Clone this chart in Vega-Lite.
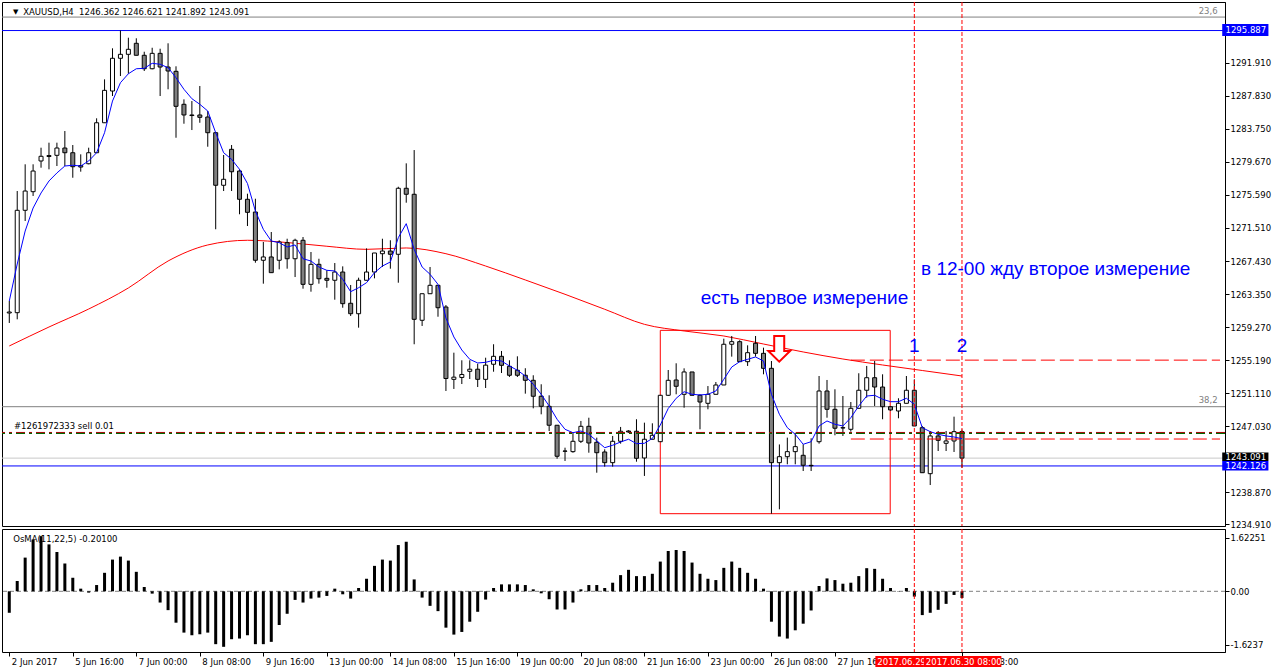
{
"$schema":"https://vega.github.io/schema/vega-lite/v6.json",
"padding":{"left":1,"top":1,"right":0,"bottom":0},
"background":"white",
"spacing":3,
"bounds":"flush",
"config":{"view":{"stroke":"black","strokeWidth":1},"font":"DejaVu Sans","axis":{"grid":false,"labelOverlap":false,"labelFont":"DejaVu Sans","labelFontSize":8.5,"labelColor":"black","tickColor":"black","domainColor":"black"}},
"datasets":{
"bars":[
{"i":0,"o":1261.01,"h":1262.49,"l":1259.78,"c":1261.13,"b":1262.49,"v":-0.65},
{"i":1,"o":1261.05,"h":1276.07,"l":1260.23,"c":1273.69,"b":1267.06,"v":0.31},
{"i":2,"o":1273.69,"h":1279.37,"l":1272.37,"c":1276.07,"b":1271.13,"v":1.02},
{"i":3,"o":1275.99,"h":1279.37,"l":1275.46,"c":1278.54,"b":1273.97,"v":1.57},
{"i":4,"o":1279.78,"h":1281.42,"l":1278.95,"c":1280.36,"b":1275.83,"v":1.67},
{"i":5,"o":1280.33,"h":1282.04,"l":1278.75,"c":1280.45,"b":1277.31,"v":1.42},
{"i":6,"o":1280.48,"h":1282.04,"l":1279.16,"c":1281.38,"b":1278.30,"v":1.19},
{"i":7,"o":1281.38,"h":1283.48,"l":1279.16,"c":1280.80,"b":1279.16,"v":0.84},
{"i":8,"o":1280.80,"h":1281.75,"l":1277.71,"c":1279.07,"b":1279.25,"v":0.41},
{"i":9,"o":1279.22,"h":1280.60,"l":1278.46,"c":1279.03,"b":1279.16,"v":0.08},
{"i":10,"o":1279.44,"h":1281.42,"l":1279.37,"c":1280.80,"b":1279.78,"v":-0.04},
{"i":11,"o":1280.80,"h":1285.05,"l":1280.80,"c":1284.50,"b":1280.80,"v":0.19},
{"i":12,"o":1284.50,"h":1289.86,"l":1284.50,"c":1288.50,"b":1283.27,"v":0.56},
{"i":13,"o":1288.42,"h":1293.69,"l":1287.80,"c":1292.46,"b":1287.18,"v":0.96},
{"i":14,"o":1292.46,"h":1295.89,"l":1290.27,"c":1292.95,"b":1289.44,"v":1.05},
{"i":15,"o":1292.95,"h":1295.00,"l":1290.55,"c":1293.57,"b":1290.55,"v":0.93},
{"i":16,"o":1294.31,"h":1294.93,"l":1292.83,"c":1292.83,"b":1291.17,"v":0.59},
{"i":17,"o":1292.83,"h":1293.27,"l":1290.89,"c":1291.17,"b":1291.22,"v":0.13},
{"i":18,"o":1291.17,"h":1293.76,"l":1291.10,"c":1293.07,"b":1291.84,"v":-0.07},
{"i":19,"o":1293.07,"h":1293.64,"l":1287.80,"c":1291.38,"b":1291.72,"v":-0.34},
{"i":20,"o":1291.38,"h":1294.31,"l":1288.63,"c":1290.89,"b":1291.30,"v":-0.57},
{"i":21,"o":1290.85,"h":1291.47,"l":1282.65,"c":1286.53,"b":1290.06,"v":-0.95},
{"i":22,"o":1286.78,"h":1287.39,"l":1284.38,"c":1285.46,"b":1288.63,"v":-1.25},
{"i":23,"o":1285.46,"h":1287.18,"l":1283.60,"c":1285.39,"b":1287.47,"v":-1.33},
{"i":24,"o":1285.46,"h":1289.04,"l":1284.50,"c":1285.17,"b":1286.78,"v":-1.30},
{"i":25,"o":1285.21,"h":1285.95,"l":1281.54,"c":1283.27,"b":1285.95,"v":-1.25},
{"i":26,"o":1283.27,"h":1283.36,"l":1271.35,"c":1276.78,"b":1283.27,"v":-1.60},
{"i":27,"o":1276.78,"h":1280.52,"l":1276.07,"c":1277.52,"b":1280.80,"v":-1.68},
{"i":28,"o":1281.22,"h":1281.75,"l":1276.07,"c":1278.45,"b":1279.99,"v":-1.45},
{"i":29,"o":1278.54,"h":1278.75,"l":1273.20,"c":1275.05,"b":1278.75,"v":-1.43},
{"i":30,"o":1275.05,"h":1275.74,"l":1271.75,"c":1273.44,"b":1277.00,"v":-1.33},
{"i":31,"o":1273.48,"h":1275.12,"l":1267.22,"c":1267.52,"b":1273.60,"v":-1.60},
{"i":32,"o":1267.52,"h":1269.78,"l":1264.63,"c":1267.93,"b":1271.34,"v":-1.60},
{"i":33,"o":1267.93,"h":1271.01,"l":1265.99,"c":1265.99,"b":1269.90,"v":-1.53},
{"i":34,"o":1267.52,"h":1269.99,"l":1266.40,"c":1269.78,"b":1269.69,"v":-1.02},
{"i":35,"o":1269.69,"h":1270.18,"l":1266.48,"c":1267.71,"b":1269.16,"v":-0.68},
{"i":36,"o":1267.71,"h":1270.18,"l":1265.45,"c":1269.99,"b":1269.41,"v":-0.26},
{"i":37,"o":1269.99,"h":1270.39,"l":1264.01,"c":1264.55,"b":1267.71,"v":-0.34},
{"i":38,"o":1264.55,"h":1268.54,"l":1263.64,"c":1267.02,"b":1267.43,"v":-0.22},
{"i":39,"o":1267.02,"h":1267.71,"l":1264.63,"c":1265.24,"b":1266.69,"v":-0.19},
{"i":40,"o":1265.29,"h":1266.28,"l":1264.13,"c":1265.05,"b":1266.28,"v":-0.14},
{"i":41,"o":1265.05,"h":1267.18,"l":1262.65,"c":1266.07,"b":1266.20,"v":0.08},
{"i":42,"o":1266.07,"h":1266.77,"l":1261.66,"c":1262.16,"b":1265.17,"v":-0.09},
{"i":43,"o":1262.21,"h":1264.47,"l":1260.64,"c":1260.92,"b":1263.64,"v":-0.22},
{"i":44,"o":1260.92,"h":1265.37,"l":1259.20,"c":1265.05,"b":1264.13,"v":0.10},
{"i":45,"o":1265.05,"h":1268.99,"l":1265.05,"c":1266.07,"b":1264.75,"v":0.38},
{"i":46,"o":1266.07,"h":1268.42,"l":1265.29,"c":1268.42,"b":1265.99,"v":0.77},
{"i":47,"o":1268.33,"h":1270.18,"l":1266.69,"c":1268.66,"b":1266.81,"v":0.96},
{"i":48,"o":1268.66,"h":1269.99,"l":1266.48,"c":1268.26,"b":1267.31,"v":0.93},
{"i":49,"o":1268.26,"h":1276.60,"l":1264.75,"c":1276.41,"b":1270.31,"v":1.40},
{"i":50,"o":1276.41,"h":1279.49,"l":1274.63,"c":1275.67,"b":1272.04,"v":1.50},
{"i":51,"o":1275.67,"h":1281.13,"l":1257.15,"c":1260.23,"b":1268.87,"v":0.36},
{"i":52,"o":1260.11,"h":1263.39,"l":1259.41,"c":1263.39,"b":1266.69,"v":-0.19},
{"i":53,"o":1263.39,"h":1266.69,"l":1263.39,"c":1264.43,"b":1265.79,"v":-0.44},
{"i":54,"o":1264.43,"h":1264.43,"l":1260.55,"c":1261.66,"b":1264.55,"v":-0.60},
{"i":55,"o":1261.75,"h":1261.99,"l":1251.38,"c":1252.92,"b":1260.39,"v":-1.10},
{"i":56,"o":1252.82,"h":1256.11,"l":1251.63,"c":1253.09,"b":1258.05,"v":-1.31},
{"i":57,"o":1253.05,"h":1255.17,"l":1252.24,"c":1253.42,"b":1256.44,"v":-1.23},
{"i":58,"o":1253.81,"h":1255.17,"l":1252.86,"c":1254.07,"b":1255.29,"v":-0.92},
{"i":59,"o":1254.07,"h":1254.75,"l":1251.87,"c":1252.82,"b":1254.84,"v":-0.62},
{"i":60,"o":1252.82,"h":1255.49,"l":1251.75,"c":1254.57,"b":1254.92,"v":-0.25},
{"i":61,"o":1254.68,"h":1257.15,"l":1253.76,"c":1255.66,"b":1255.17,"v":0.10},
{"i":62,"o":1255.66,"h":1256.32,"l":1253.60,"c":1254.55,"b":1255.08,"v":0.21},
{"i":63,"o":1254.43,"h":1255.17,"l":1253.11,"c":1253.32,"b":1254.47,"v":0.21},
{"i":64,"o":1253.94,"h":1255.66,"l":1253.11,"c":1253.32,"b":1253.94,"v":0.21},
{"i":65,"o":1253.32,"h":1254.19,"l":1251.05,"c":1252.70,"b":1253.23,"v":0.19},
{"i":66,"o":1252.70,"h":1253.32,"l":1249.24,"c":1250.73,"b":1252.21,"v":0.06},
{"i":67,"o":1250.73,"h":1252.21,"l":1248.50,"c":1249.49,"b":1250.97,"v":-0.06},
{"i":68,"o":1249.49,"h":1250.85,"l":1246.44,"c":1247.15,"b":1249.53,"v":-0.24},
{"i":69,"o":1247.15,"h":1247.15,"l":1243.02,"c":1243.32,"b":1247.89,"v":-0.55},
{"i":70,"o":1243.97,"h":1244.38,"l":1242.74,"c":1243.94,"b":1246.65,"v":-0.55},
{"i":71,"o":1243.89,"h":1246.23,"l":1243.76,"c":1245.17,"b":1246.23,"v":-0.34},
{"i":72,"o":1245.17,"h":1247.68,"l":1244.96,"c":1247.02,"b":1246.44,"v":0.06},
{"i":73,"o":1247.02,"h":1248.08,"l":1243.76,"c":1244.96,"b":1246.03,"v":0.19},
{"i":74,"o":1245.05,"h":1245.62,"l":1241.29,"c":1243.76,"b":1245.21,"v":0.19},
{"i":75,"o":1243.85,"h":1244.18,"l":1242.04,"c":1242.53,"b":1244.38,"v":0.10},
{"i":76,"o":1242.53,"h":1245.83,"l":1242.04,"c":1245.17,"b":1244.68,"v":0.26},
{"i":77,"o":1245.17,"h":1246.94,"l":1244.88,"c":1246.41,"b":1245.08,"v":0.49},
{"i":78,"o":1246.44,"h":1246.53,"l":1246.23,"c":1246.32,"b":1245.42,"v":0.65},
{"i":79,"o":1246.41,"h":1247.89,"l":1242.65,"c":1243.07,"b":1244.88,"v":0.46},
{"i":80,"o":1243.11,"h":1247.47,"l":1240.89,"c":1245.42,"b":1244.92,"v":0.46},
{"i":81,"o":1245.42,"h":1247.39,"l":1245.42,"c":1245.91,"b":1245.52,"v":0.53},
{"i":82,"o":1245.12,"h":1250.89,"l":1245.12,"c":1250.85,"b":1247.18,"v":0.90},
{"i":83,"o":1250.85,"h":1253.97,"l":1250.76,"c":1252.70,"b":1249.22,"v":1.22},
{"i":84,"o":1252.74,"h":1254.80,"l":1250.97,"c":1251.96,"b":1250.48,"v":1.25},
{"i":85,"o":1250.97,"h":1254.18,"l":1249.32,"c":1253.73,"b":1251.29,"v":1.22},
{"i":86,"o":1253.73,"h":1253.73,"l":1250.85,"c":1250.85,"b":1250.97,"v":0.87},
{"i":87,"o":1250.85,"h":1250.97,"l":1246.65,"c":1250.02,"b":1250.89,"v":0.53},
{"i":88,"o":1249.86,"h":1251.99,"l":1249.12,"c":1250.97,"b":1250.97,"v":0.38},
{"i":89,"o":1250.97,"h":1252.49,"l":1250.97,"c":1252.12,"b":1251.38,"v":0.34},
{"i":90,"o":1252.12,"h":1257.84,"l":1252.12,"c":1257.15,"b":1252.82,"v":0.71},
{"i":91,"o":1257.15,"h":1258.17,"l":1255.62,"c":1257.47,"b":1254.34,"v":0.90},
{"i":92,"o":1257.47,"h":1257.64,"l":1255.00,"c":1255.00,"b":1255.00,"v":0.71},
{"i":93,"o":1255.00,"h":1257.02,"l":1254.47,"c":1256.11,"b":1255.29,"v":0.56},
{"i":94,"o":1257.27,"h":1258.17,"l":1255.62,"c":1256.03,"b":1255.58,"v":0.38},
{"i":95,"o":1256.03,"h":1256.73,"l":1253.44,"c":1254.18,"b":1255.08,"v":0.08},
{"i":96,"o":1254.18,"h":1255.08,"l":1236.23,"c":1242.53,"b":1250.97,"v":-0.92},
{"i":97,"o":1242.53,"h":1244.78,"l":1236.77,"c":1243.27,"b":1248.50,"v":-1.37},
{"i":98,"o":1243.27,"h":1245.62,"l":1242.33,"c":1243.89,"b":1246.85,"v":-1.43},
{"i":99,"o":1243.89,"h":1246.23,"l":1242.33,"c":1244.51,"b":1246.03,"v":-1.18},
{"i":100,"o":1243.44,"h":1244.80,"l":1241.50,"c":1242.21,"b":1244.80,"v":-0.98},
{"i":101,"o":1242.2,"h":1245.54,"l":1241.50,"c":1242.15,"b":1245.12,"v":-0.58},
{"i":102,"o":1245.12,"h":1253.23,"l":1244.88,"c":1251.38,"b":1247.06,"v":0.16},
{"i":103,"o":1251.38,"h":1252.74,"l":1248.08,"c":1249.12,"b":1247.68,"v":0.39},
{"i":104,"o":1249.12,"h":1251.59,"l":1245.91,"c":1246.78,"b":1247.27,"v":0.34},
{"i":105,"o":1246.85,"h":1250.76,"l":1245.83,"c":1246.81,"b":1247.06,"v":0.23},
{"i":106,"o":1246.65,"h":1250.02,"l":1246.36,"c":1249.24,"b":1248.08,"v":0.26},
{"i":107,"o":1249.24,"h":1253.57,"l":1249.24,"c":1251.47,"b":1249.53,"v":0.46},
{"i":108,"o":1251.47,"h":1254.47,"l":1250.55,"c":1253.02,"b":1250.76,"v":0.70},
{"i":109,"o":1253.02,"h":1255.08,"l":1249.53,"c":1251.87,"b":1250.85,"v":0.68},
{"i":110,"o":1251.87,"h":1253.44,"l":1247.89,"c":1249.44,"b":1250.36,"v":0.38},
{"i":111,"o":1249.44,"h":1249.53,"l":1248.95,"c":1249.04,"b":1250.06,"v":0.10},
{"i":112,"o":1248.91,"h":1250.48,"l":1248.01,"c":1249.86,"b":1250.06,"v":0.01},
{"i":113,"o":1249.86,"h":1253.23,"l":1249.86,"c":1251.47,"b":1250.48,"v":0.10},
{"i":114,"o":1251.47,"h":1252.82,"l":1247.06,"c":1247.06,"b":1249.74,"v":-0.16},
{"i":115,"o":1246.85,"h":1247.06,"l":1241.29,"c":1241.29,"b":1246.85,"v":-0.72},
{"i":116,"o":1241.17,"h":1246.44,"l":1239.77,"c":1245.83,"b":1246.36,"v":-0.65},
{"i":117,"o":1245.83,"h":1246.44,"l":1243.97,"c":1245.29,"b":1246.03,"v":-0.56},
{"i":118,"o":1244.92,"h":1246.44,"l":1243.97,"c":1245.21,"b":1245.83,"v":-0.38},
{"i":119,"o":1245.21,"h":1248.21,"l":1243.85,"c":1246.36,"b":1245.70,"v":-0.11},
{"i":120,"o":1246.362,"h":1246.621,"l":1241.892,"c":1243.091,"b":1245.49,"v":-0.201}
],
"red":[
{"i":0,"r":1256.94},{"i":5,"r":1259.28},{"i":10,"r":1261.50},{"i":15,"r":1264.10},{"i":20,"r":1267.43},
{"i":25,"r":1269.41},{"i":30,"r":1269.99},{"i":35,"r":1269.71},{"i":40,"r":1269.25},{"i":45,"r":1268.87},
{"i":50,"r":1269.04},{"i":55,"r":1268.33},{"i":60,"r":1266.81},{"i":65,"r":1265.09},{"i":70,"r":1263.32},
{"i":75,"r":1261.47},{"i":80,"r":1259.61},{"i":85,"r":1258.79},{"i":90,"r":1258.17},{"i":95,"r":1257.18},
{"i":100,"r":1256.20},{"i":105,"r":1255.33},{"i":110,"r":1254.59},{"i":115,"r":1253.91},{"i":120,"r":1253.23}
]
},
"vconcat":[
{
"width":1223,"height":524,
"layer":[
{"data":{"values":[{}]},"mark":{"type":"rule","color":"#808080","strokeWidth":1},
 "encoding":{"y":{"datum":1297.55,"type":"quantitative","scale":{"domain":[1234.71,1299.41],"nice":false,"zero":false},
 "axis":{"orient":"right","values":[1291.91,1287.83,1283.75,1279.67,1275.59,1271.51,1267.43,1263.35,1259.27,1255.19,1251.11,1247.03,1238.87,1234.91],"format":".3f","title":null,"grid":false,"domain":true,"domainColor":"black","ticks":true,"tickColor":"black","tickSize":4,"labelPadding":1,"labelFont":"DejaVu Sans","labelFontSize":8.5,"labelColor":"black","labelFlush":false,"labelOverlap":false,"labelBound":false}}}},
{"data":{"values":[{}]},"mark":{"type":"rule","color":"#808080","strokeWidth":1},
 "encoding":{"y":{"datum":1249.44,"type":"quantitative","scale":{"domain":[1234.71,1299.41],"nice":false,"zero":false},"axis":{"title":null,"labelOverlap":false}}}},
{"data":{"values":[{}]},"mark":{"type":"rule","color":"#c8c8c8","strokeWidth":1},
 "encoding":{"y":{"datum":1243.091,"type":"quantitative","scale":{"domain":[1234.71,1299.41],"nice":false,"zero":false},"axis":{"title":null,"labelOverlap":false}}}},
{"data":{"values":[{}]},"mark":{"type":"rule","color":"#0000ff","strokeWidth":1},
 "encoding":{"y":{"datum":1295.887,"type":"quantitative","scale":{"domain":[1234.71,1299.41],"nice":false,"zero":false},"axis":{"title":null,"labelOverlap":false}}}},
{"data":{"values":[{}]},"mark":{"type":"rule","color":"#0000ff","strokeWidth":1},
 "encoding":{"y":{"datum":1242.126,"type":"quantitative","scale":{"domain":[1234.71,1299.41],"nice":false,"zero":false},"axis":{"title":null,"labelOverlap":false}}}},
{"data":{"name":"red"},"mark":{"type":"line","color":"#ff0000","strokeWidth":1,"interpolate":"monotone","clip":true},
 "encoding":{"x":{"field":"i","type":"quantitative","scale":{"domain":[-0.2875,152.5],"nice":false,"zero":false},"axis":null},
 "y":{"field":"r","type":"quantitative","scale":{"domain":[1234.71,1299.41],"nice":false,"zero":false},"axis":{"title":null,"labelOverlap":false}}}},
{"data":{"values":[{}]},"mark":{"type":"rect","fill":"transparent","stroke":"#ff0000","strokeWidth":1},
 "encoding":{"x":{"datum":82.0,"type":"quantitative","scale":{"domain":[-0.2875,152.5],"nice":false,"zero":false},"axis":null},"x2":{"datum":110.96},
 "y":{"datum":1258.87,"type":"quantitative","scale":{"domain":[1234.71,1299.41],"nice":false,"zero":false},"axis":{"title":null,"labelOverlap":false}},"y2":{"datum":1236.23}}},
{"data":{"name":"bars"},"mark":{"type":"rule","color":"black","strokeWidth":1,"clip":true},
 "encoding":{"x":{"field":"i","type":"quantitative","scale":{"domain":[-0.2875,152.5],"nice":false,"zero":false},"axis":null},
 "y":{"field":"l","type":"quantitative","scale":{"domain":[1234.71,1299.41],"nice":false,"zero":false},"axis":{"title":null,"labelOverlap":false}},"y2":{"field":"h"}}},
{"data":{"name":"bars"},"mark":{"type":"bar","size":4,"stroke":"black","strokeWidth":1,"clip":true},
 "encoding":{"x":{"field":"i","type":"quantitative","scale":{"domain":[-0.2875,152.5],"nice":false,"zero":false},"axis":null},
 "y":{"field":"o","type":"quantitative","scale":{"domain":[1234.71,1299.41],"nice":false,"zero":false},"axis":{"title":null,"labelOverlap":false}},"y2":{"field":"c"},
 "fill":{"condition":{"test":"datum.c >= datum.o","value":"#ffffff"},"value":"#808080"}}},
{"data":{"name":"bars"},"mark":{"type":"line","color":"#0000ff","strokeWidth":1,"clip":true},
 "encoding":{"x":{"field":"i","type":"quantitative","scale":{"domain":[-0.2875,152.5],"nice":false,"zero":false},"axis":null},
 "y":{"field":"b","type":"quantitative","scale":{"domain":[1234.71,1299.41],"nice":false,"zero":false},"axis":{"title":null,"labelOverlap":false}}}},
{"data":{"values":[{}]},"mark":{"type":"rule","color":"#ff0000","strokeWidth":1,"strokeDash":[14,5]},
 "encoding":{"x":{"datum":106,"type":"quantitative","scale":{"domain":[-0.2875,152.5],"nice":false,"zero":false},"axis":null},"x2":{"datum":152.5},
 "y":{"datum":1255.19,"type":"quantitative","scale":{"domain":[1234.71,1299.41],"nice":false,"zero":false},"axis":{"title":null,"labelOverlap":false}}}},
{"data":{"values":[{}]},"mark":{"type":"rule","color":"#ff0000","strokeWidth":1,"strokeDash":[14,5]},
 "encoding":{"x":{"datum":106,"type":"quantitative","scale":{"domain":[-0.2875,152.5],"nice":false,"zero":false},"axis":null},"x2":{"datum":152.5},
 "y":{"datum":1245.45,"type":"quantitative","scale":{"domain":[1234.71,1299.41],"nice":false,"zero":false},"axis":{"title":null,"labelOverlap":false}}}},
{"data":{"values":[{}]},"mark":{"type":"rule","color":"#006400","strokeWidth":1,"strokeDash":[9,4,3,4]},
 "encoding":{"y":{"datum":1246.13,"type":"quantitative","scale":{"domain":[1234.71,1299.41],"nice":false,"zero":false},"axis":{"title":null,"labelOverlap":false}}}},
{"data":{"values":[{}]},"mark":{"type":"rule","color":"#a00000","strokeWidth":1,"strokeDash":[9,4,3,4]},
 "encoding":{"y":{"datum":1246.26,"type":"quantitative","scale":{"domain":[1234.71,1299.41],"nice":false,"zero":false},"axis":{"title":null,"labelOverlap":false}}}},
{"data":{"values":[{}]},"mark":{"type":"rule","color":"#ff0000","strokeWidth":1,"strokeDash":[4,2]},
 "encoding":{"x":{"datum":114,"type":"quantitative","scale":{"domain":[-0.2875,152.5],"nice":false,"zero":false},"axis":null}}},
{"data":{"values":[{}]},"mark":{"type":"rule","color":"#ff0000","strokeWidth":1,"strokeDash":[4,2]},
 "encoding":{"x":{"datum":120,"type":"quantitative","scale":{"domain":[-0.2875,152.5],"nice":false,"zero":false},"axis":null}}},
{"data":{"values":[{}]},"mark":{"type":"point","shape":"M -0.39 -1 L 0.39 -1 L 0.39 0.17 L 0.845 0.17 L 0 1 L -0.845 0.17 L -0.39 0.17 Z","size":660,"filled":true,"fill":"#ffffff","stroke":"#ff0000","strokeWidth":2,"opacity":1},
 "encoding":{"x":{"datum":96.98,"type":"quantitative","scale":{"domain":[-0.2875,152.5],"nice":false,"zero":false},"axis":null},
 "y":{"datum":1256.58,"type":"quantitative","scale":{"domain":[1234.71,1299.41],"nice":false,"zero":false},"axis":{"title":null,"labelOverlap":false}}}},
{"data":{"values":[{}]},"mark":{"type":"text","text":"▼","align":"center","baseline":"middle","font":"DejaVu Sans","fontSize":7,"color":"black"},
 "encoding":{"x":{"datum":0.81,"type":"quantitative","scale":{"domain":[-0.2875,152.5],"nice":false,"zero":false},"axis":null},
 "y":{"datum":1298.17,"type":"quantitative","scale":{"domain":[1234.71,1299.41],"nice":false,"zero":false},"axis":{"title":null,"labelOverlap":false}}}},
{"data":{"values":[{}]},"mark":{"type":"text","text":"XAUUSD,H4\u00a0 1246.362 1246.621 1241.892 1243.091","align":"left","baseline":"alphabetic","font":"DejaVu Sans","fontSize":8.5,"color":"black"},
 "encoding":{"x":{"datum":1.75,"type":"quantitative","scale":{"domain":[-0.2875,152.5],"nice":false,"zero":false},"axis":null},
 "y":{"datum":1297.8,"type":"quantitative","scale":{"domain":[1234.71,1299.41],"nice":false,"zero":false},"axis":{"title":null,"labelOverlap":false}}}},
{"data":{"values":[{}]},"mark":{"type":"text","text":"#1261972333 sell 0.01","align":"left","baseline":"alphabetic","font":"DejaVu Sans","fontSize":8.5,"color":"black"},
 "encoding":{"x":{"datum":0.59,"type":"quantitative","scale":{"domain":[-0.2875,152.5],"nice":false,"zero":false},"axis":null},
 "y":{"datum":1246.63,"type":"quantitative","scale":{"domain":[1234.71,1299.41],"nice":false,"zero":false},"axis":{"title":null,"labelOverlap":false}}}},
{"data":{"values":[{}]},"mark":{"type":"text","text":"23,6","align":"right","baseline":"alphabetic","font":"DejaVu Sans","fontSize":8.5,"color":"#808080"},
 "encoding":{"x":{"datum":152.2,"type":"quantitative","scale":{"domain":[-0.2875,152.5],"nice":false,"zero":false},"axis":null},
 "y":{"datum":1297.93,"type":"quantitative","scale":{"domain":[1234.71,1299.41],"nice":false,"zero":false},"axis":{"title":null,"labelOverlap":false}}}},
{"data":{"values":[{}]},"mark":{"type":"text","text":"38,2","align":"right","baseline":"alphabetic","font":"DejaVu Sans","fontSize":8.5,"color":"#808080"},
 "encoding":{"x":{"datum":152.2,"type":"quantitative","scale":{"domain":[-0.2875,152.5],"nice":false,"zero":false},"axis":null},
 "y":{"datum":1249.9,"type":"quantitative","scale":{"domain":[1234.71,1299.41],"nice":false,"zero":false},"axis":{"title":null,"labelOverlap":false}}}},
{"data":{"values":[{}]},"mark":{"type":"text","text":"есть первое измерение","align":"left","baseline":"alphabetic","font":"Liberation Sans","fontSize":19,"color":"#0000ff"},
 "encoding":{"x":{"datum":87.1,"type":"quantitative","scale":{"domain":[-0.2875,152.5],"nice":false,"zero":false},"axis":null},
 "y":{"datum":1262.12,"type":"quantitative","scale":{"domain":[1234.71,1299.41],"nice":false,"zero":false},"axis":{"title":null,"labelOverlap":false}}}},
{"data":{"values":[{}]},"mark":{"type":"text","text":"в 12-00 жду второе измерение","align":"left","baseline":"alphabetic","font":"Liberation Sans","fontSize":19,"color":"#0000ff"},
 "encoding":{"x":{"datum":114.84,"type":"quantitative","scale":{"domain":[-0.2875,152.5],"nice":false,"zero":false},"axis":null},
 "y":{"datum":1265.7,"type":"quantitative","scale":{"domain":[1234.71,1299.41],"nice":false,"zero":false},"axis":{"title":null,"labelOverlap":false}}}},
{"data":{"values":[{}]},"mark":{"type":"text","text":"1","align":"center","baseline":"alphabetic","font":"Liberation Sans","fontSize":19,"color":"#0000ff"},
 "encoding":{"x":{"datum":114,"type":"quantitative","scale":{"domain":[-0.2875,152.5],"nice":false,"zero":false},"axis":null},
 "y":{"datum":1256.2,"type":"quantitative","scale":{"domain":[1234.71,1299.41],"nice":false,"zero":false},"axis":{"title":null,"labelOverlap":false}}}},
{"data":{"values":[{}]},"mark":{"type":"text","text":"2","align":"center","baseline":"alphabetic","font":"Liberation Sans","fontSize":19,"color":"#0000ff"},
 "encoding":{"x":{"datum":120,"type":"quantitative","scale":{"domain":[-0.2875,152.5],"nice":false,"zero":false},"axis":null},
 "y":{"datum":1256.2,"type":"quantitative","scale":{"domain":[1234.71,1299.41],"nice":false,"zero":false},"axis":{"title":null,"labelOverlap":false}}}},
{"data":{"values":[{}]},"mark":{"type":"rect","fill":"#0000ff"},
 "encoding":{"x":{"datum":152.78,"type":"quantitative","scale":{"domain":[-0.2875,152.5],"nice":false,"zero":false},"axis":null},"x2":{"datum":158.6},
 "y":{"datum":1296.69,"type":"quantitative","scale":{"domain":[1234.71,1299.41],"nice":false,"zero":false},"axis":{"title":null,"labelOverlap":false}},"y2":{"datum":1295.21}}},
{"data":{"values":[{}]},"mark":{"type":"text","text":"1295.887","align":"left","baseline":"middle","font":"DejaVu Sans","fontSize":8.5,"color":"#ffffff"},
 "encoding":{"x":{"datum":153.2,"type":"quantitative","scale":{"domain":[-0.2875,152.5],"nice":false,"zero":false},"axis":null},
 "y":{"datum":1295.95,"type":"quantitative","scale":{"domain":[1234.71,1299.41],"nice":false,"zero":false},"axis":{"title":null,"labelOverlap":false}}}},
{"data":{"values":[{}]},"mark":{"type":"rect","fill":"#000000"},
 "encoding":{"x":{"datum":152.78,"type":"quantitative","scale":{"domain":[-0.2875,152.5],"nice":false,"zero":false},"axis":null},"x2":{"datum":158.6},
 "y":{"datum":1243.79,"type":"quantitative","scale":{"domain":[1234.71,1299.41],"nice":false,"zero":false},"axis":{"title":null,"labelOverlap":false}},"y2":{"datum":1242.74}}},
{"data":{"values":[{}]},"mark":{"type":"text","text":"1243.091","align":"left","baseline":"middle","font":"DejaVu Sans","fontSize":8.5,"color":"#ffffff"},
 "encoding":{"x":{"datum":153.2,"type":"quantitative","scale":{"domain":[-0.2875,152.5],"nice":false,"zero":false},"axis":null},
 "y":{"datum":1243.28,"type":"quantitative","scale":{"domain":[1234.71,1299.41],"nice":false,"zero":false},"axis":{"title":null,"labelOverlap":false}}}},
{"data":{"values":[{}]},"mark":{"type":"rect","fill":"#0000ff"},
 "encoding":{"x":{"datum":152.78,"type":"quantitative","scale":{"domain":[-0.2875,152.5],"nice":false,"zero":false},"axis":null},"x2":{"datum":158.6},
 "y":{"datum":1242.74,"type":"quantitative","scale":{"domain":[1234.71,1299.41],"nice":false,"zero":false},"axis":{"title":null,"labelOverlap":false}},"y2":{"datum":1241.56}}},
{"data":{"values":[{}]},"mark":{"type":"text","text":"1242.126","align":"left","baseline":"middle","font":"DejaVu Sans","fontSize":8.5,"color":"#ffffff"},
 "encoding":{"x":{"datum":153.2,"type":"quantitative","scale":{"domain":[-0.2875,152.5],"nice":false,"zero":false},"axis":null},
 "y":{"datum":1242.15,"type":"quantitative","scale":{"domain":[1234.71,1299.41],"nice":false,"zero":false},"axis":{"title":null,"labelOverlap":false}}}}
]
},
{
"width":1223,"height":123,
"layer":[
{"data":{"values":[{}]},"mark":{"type":"rule","color":"#808080","strokeWidth":1,"strokeDash":[4,3]},
 "encoding":{"y":{"datum":0,"type":"quantitative","scale":{"domain":[-1.837,1.886],"nice":false,"zero":false},
 "axis":{"orient":"right","values":[1.62251,0,-1.6237],"labelExpr":"datum.value > 1 ? '1.62251' : (datum.value < -1 ? '-1.6237' : '0.00')","title":null,"grid":false,"domain":true,"domainColor":"black","ticks":true,"tickColor":"black","tickSize":4,"labelPadding":1,"labelFont":"DejaVu Sans","labelFontSize":8.5,"labelColor":"black","labelFlush":false,"labelOverlap":false,"labelBound":false}}}},
{"data":{"name":"bars"},"mark":{"type":"bar","size":3,"color":"black","clip":true},
 "encoding":{"x":{"field":"i","type":"quantitative","scale":{"domain":[-0.2875,152.5],"nice":false,"zero":false},
 "axis":{"orient":"bottom","values":[0,8,16,24,32,40,48,56,64,72,80,88,96,104,120],"labelExpr":"['2 Jun 2017','5 Jun 16:00','7 Jun 00:00','8 Jun 08:00','9 Jun 16:00','13 Jun 00:00','14 Jun 08:00','15 Jun 16:00','19 Jun 00:00','20 Jun 08:00','21 Jun 16:00','23 Jun 00:00','26 Jun 08:00','27 Jun 16:00','29 Jun 00:00','30 Jun 08:00'][round(datum.value/8)]","title":null,"grid":false,"domain":false,"ticks":true,"tickColor":"black","tickSize":4,"labelAlign":"left","labelBaseline":"top","labelPadding":1,"labelOffset":2,"labelFont":"DejaVu Sans","labelFontSize":8.5,"labelColor":"black","labelFlush":false,"labelOverlap":false,"labelBound":false}},
 "y":{"field":"v","type":"quantitative","scale":{"domain":[-1.837,1.886],"nice":false,"zero":false},"axis":{"title":null,"labelOverlap":false}},
 "y2":{"datum":0}}},
{"data":{"values":[{}]},"mark":{"type":"rule","color":"#ff0000","strokeWidth":1,"strokeDash":[4,2]},
 "encoding":{"x":{"datum":114,"type":"quantitative","scale":{"domain":[-0.2875,152.5],"nice":false,"zero":false},"axis":{"title":null,"labelOverlap":false}}}},
{"data":{"values":[{}]},"mark":{"type":"rule","color":"#ff0000","strokeWidth":1,"strokeDash":[4,2]},
 "encoding":{"x":{"datum":120,"type":"quantitative","scale":{"domain":[-0.2875,152.5],"nice":false,"zero":false},"axis":{"title":null,"labelOverlap":false}}}},
{"data":{"values":[{}]},"mark":{"type":"text","text":"OsMA(11,22,5) -0.20100","align":"left","baseline":"alphabetic","font":"DejaVu Sans","fontSize":8.5,"color":"black"},
 "encoding":{"x":{"datum":0.5,"type":"quantitative","scale":{"domain":[-0.2875,152.5],"nice":false,"zero":false},"axis":{"title":null,"labelOverlap":false}},
 "y":{"datum":1.492,"type":"quantitative","scale":{"domain":[-1.837,1.886],"nice":false,"zero":false},"axis":{"title":null,"labelOverlap":false}}}},
{"data":{"values":[{}]},"mark":{"type":"rect","fill":"#ff0000"},
 "encoding":{"x":{"datum":109.09,"type":"quantitative","scale":{"domain":[-0.2875,152.5],"nice":false,"zero":false},"axis":{"title":null,"labelOverlap":false}},"x2":{"datum":115.21},
 "y":{"datum":-1.958,"type":"quantitative","scale":{"domain":[-1.837,1.886],"nice":false,"zero":false},"axis":{"title":null,"labelOverlap":false}},"y2":{"datum":-2.291}}},
{"data":{"values":[{}]},"mark":{"type":"text","text":"2017.06.29","align":"left","baseline":"middle","font":"DejaVu Sans","fontSize":8.5,"color":"#ffffff"},
 "encoding":{"x":{"datum":109.34,"type":"quantitative","scale":{"domain":[-0.2875,152.5],"nice":false,"zero":false},"axis":{"title":null,"labelOverlap":false}},
 "y":{"datum":-2.125,"type":"quantitative","scale":{"domain":[-1.837,1.886],"nice":false,"zero":false},"axis":{"title":null,"labelOverlap":false}}}},
{"data":{"values":[{}]},"mark":{"type":"rect","fill":"#ff0000"},
 "encoding":{"x":{"datum":115.21,"type":"quantitative","scale":{"domain":[-0.2875,152.5],"nice":false,"zero":false},"axis":{"title":null,"labelOverlap":false}},"x2":{"datum":124.96},
 "y":{"datum":-1.958,"type":"quantitative","scale":{"domain":[-1.837,1.886],"nice":false,"zero":false},"axis":{"title":null,"labelOverlap":false}},"y2":{"datum":-2.291}}},
{"data":{"values":[{}]},"mark":{"type":"text","text":"2017.06.30 08:00","align":"left","baseline":"middle","font":"DejaVu Sans","fontSize":8.5,"color":"#ffffff"},
 "encoding":{"x":{"datum":115.45,"type":"quantitative","scale":{"domain":[-0.2875,152.5],"nice":false,"zero":false},"axis":{"title":null,"labelOverlap":false}},
 "y":{"datum":-2.125,"type":"quantitative","scale":{"domain":[-1.837,1.886],"nice":false,"zero":false},"axis":{"title":null,"labelOverlap":false}}}}
]
}
]
}
